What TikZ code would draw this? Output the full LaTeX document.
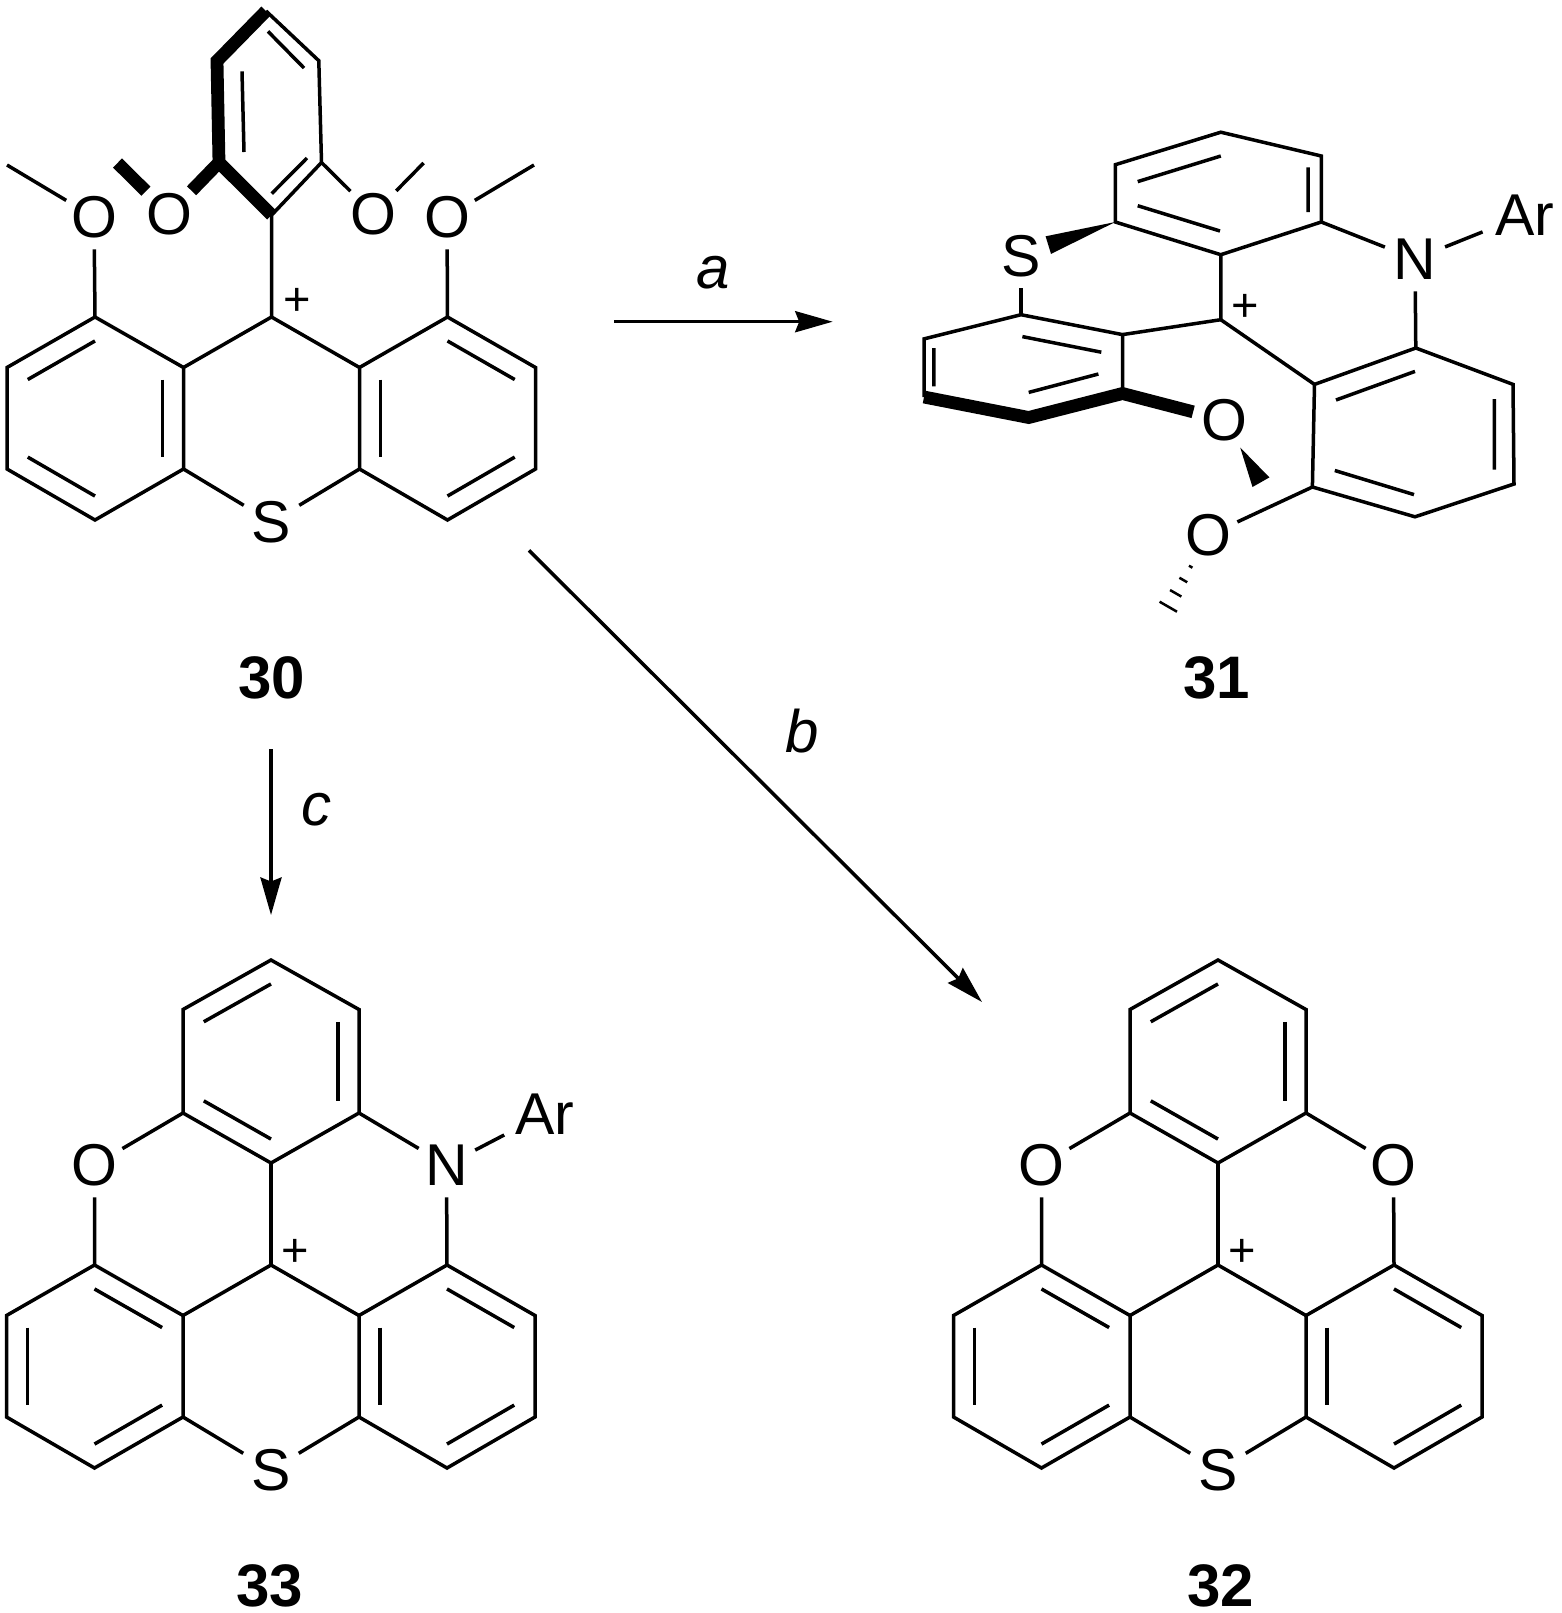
\documentclass[tikz,border=0pt]{standalone}
\usepackage{fontspec}
\setmainfont{Liberation Sans}
\usetikzlibrary{arrows.meta,calc}
\tikzset{
  bond/.style={line width=1.75pt,line join=miter},
  boldbond/.style={line width=6.4pt,line join=miter},
  atom/.style={circle,inner sep=0pt,minimum size=32pt,font=\fontsize{29.5}{30}\selectfont},
  aryl/.style={atom,minimum size=45pt},
  chg/.style={inner sep=0pt,font=\fontsize{23.5}{24}\selectfont},
  cmpd/.style={inner sep=0pt,font=\fontsize{30}{31}\selectfont\bfseries},
  cond/.style={inner sep=0pt,font=\fontsize{30}{31}\selectfont\itshape},
  rxn/.style={line width=1.75pt,-{Stealth[length=18.75pt,width=10.5pt,inset=2pt]}}
}
\begin{document}
\begin{tikzpicture}[x=0.5pt,y=-0.5pt]
  \useasboundingbox (0,0) rectangle (1562,1613);
  \def\dbl#1#2#3{\draw[bond] ($(#2)!0.236!(#1)$) -- ($(#3)!0.236!(#1)$);}
  \def\tribase#1(#2,#3){%
    \begin{scope}[shift={(#2,#3)}]
      \coordinate (#1p) at (0,0);
      \coordinate (#1a) at (-88,50.5);
      \coordinate (#1b) at (-88,152);
      \coordinate (#1c) at (88,50.5);
      \coordinate (#1d) at (88,152);
      \coordinate (#1e) at (-176.5,0);
      \coordinate (#1f) at (-264.5,50.5);
      \coordinate (#1g) at (-264.5,152);
      \coordinate (#1h) at (-176.5,203);
      \coordinate (#1i) at (176,0);
      \coordinate (#1j) at (264,50.5);
      \coordinate (#1k) at (264,152);
      \coordinate (#1l) at (176,203);
      \coordinate (#1lc) at (-176.5,101.5);
      \coordinate (#1rc) at (176,101.5);
      \node[atom] (#1s) at (0,205) {S};
    \end{scope}
    \draw[bond] (#1a) -- (#1e) -- (#1f) -- (#1g) -- (#1h) -- (#1b) -- cycle;
    \draw[bond] (#1c) -- (#1i) -- (#1j) -- (#1k) -- (#1l) -- (#1d) -- cycle;
    \draw[bond] (#1a) -- (#1p) -- (#1c);
    \draw[bond] (#1b) -- (#1s) -- (#1d);
    \foreach \u/\v in {i/j,c/d,k/l} {\dbl{#1rc}{#1\u}{#1\v}}
  }
  \def\capring#1(#2,#3)#4{%
    \begin{scope}[shift={(#2,#3)}]
      \coordinate (#1q) at (0,-102);
      \coordinate (#1t) at (-88,-152);
      \coordinate (#1u) at (-88,-255.5);
      \coordinate (#1v) at (0,-305);
      \coordinate (#1w) at (88,-255.5);
      \coordinate (#1x) at (88,-152);
      \coordinate (#1tc) at (0,-203.5);
      \node[atom] (#1ol) at (-176.5,-100) {O};
      \node[atom] (#1nr) at (175.5,-100) {#4};
    \end{scope}
    \draw[bond] (#1q) -- (#1t) -- (#1u) -- (#1v) -- (#1w) -- (#1x) -- cycle;
    \draw[bond] (#1q) -- (#1p);
    \draw[bond] (#1t) -- (#1ol) -- (#1e);
    \draw[bond] (#1x) -- (#1nr) -- (#1i);
    \foreach \u/\v in {u/v,w/x,t/q} {\dbl{#1tc}{#1\u}{#1\v}}
    \foreach \u/\v in {e/a,f/g,h/b} {\dbl{#1lc}{#1\u}{#1\v}}
  }

  % 30
  \tribase{m}(271.5,317)
  \foreach \u/\v in {e/f,a/b,g/h} {\dbl{mlc}{m\u}{m\v}}
  \node[chg] (mplus) at (297.7,301.8) {+};
  \coordinate (ar1) at (271.7,215);
  \coordinate (ar2) at (321.5,162.5);
  \coordinate (ar3) at (318.8,60.7);
  \coordinate (ar4) at (266,11);
  \coordinate (ar5) at (217,61);
  \coordinate (ar6) at (219,162.5);
  \draw[bond] (mp) -- (ar1) -- (ar2) -- (ar3) -- (ar4);
  \draw[boldbond] (ar4) -- (ar5) -- (ar6) -- (ar1);
  \draw[bond] (268,31.4) -- (304,68) (242,71.4) -- (244,152) (271.7,193.6) -- (307,158);
  \node[atom] (mo1) at (94,217) {O};
  \node[atom] (mo2) at (169,214) {O};
  \node[atom] (mo3) at (373.5,214) {O};
  \node[atom] (mo4) at (447,217) {O};
  \coordinate (me1) at (7,165);
  \coordinate (me2) at (117.5,163);
  \coordinate (me3) at (423.6,163);
  \coordinate (me4) at (534,165);
  \draw[bond] (me1) -- (mo1) -- (me);
  \draw[bond] (me4) -- (mo4) -- (mi);
  \draw[boldbond] (me2) -- (mo2) -- (ar6);
  \draw[bond] (ar2) -- (mo3) -- (me3);
  \node[cmpd] (lab30) at (272,678) {30};

  % 33
  \tribase{p}(271,1265)
  \capring{p}(271,1265){N}
  \node[aryl] (parl) at (544.5,1114) {Ar};
  \draw[bond] (pnr) -- (parl);
  \node[chg] (pplus) at (295,1253) {+};
  \node[cmpd] (lab33) at (270,1586) {33};

  % 32
  \tribase{r}(1218,1265)
  \capring{r}(1218,1265){O}
  \node[chg] (rplus) at (1242,1253) {+};
  \node[cmpd] (lab32) at (1220.5,1586) {32};

  % 31
  \coordinate (tp1) at (1115.3,164.7);
  \coordinate (tp2) at (1220.8,132.2);
  \coordinate (tp3) at (1321.3,156);
  \coordinate (tp4) at (1321.3,222);
  \coordinate (tp5) at (1220.8,254.7);
  \coordinate (tp6) at (1115.3,222);
  \coordinate (cen) at (1220.8,319.7);
  \coordinate (lf1) at (1021,314.7);
  \coordinate (lf2) at (924,338.9);
  \coordinate (lf3) at (924,397);
  \coordinate (lf4) at (1028.7,417.5);
  \coordinate (lf5) at (1122.5,393.5);
  \coordinate (lf6) at (1122.5,334.6);
  \coordinate (rt1) at (1415.8,348);
  \coordinate (rt2) at (1513,384.4);
  \coordinate (rt3) at (1514,484);
  \coordinate (rt4) at (1415,516.8);
  \coordinate (rt5) at (1312.4,487);
  \coordinate (rt6) at (1314.5,384.4);
  \node[atom] (ss) at (1021,256) {S};
  \node[atom] (nn) at (1415,259) {N};
  \node[aryl] (ar) at (1524.7,215) {Ar};
  \node[atom] (ou) at (1224.5,420) {O};
  \node[atom] (ol) at (1208,535.6) {O};
  \node[chg] (cplus) at (1245.3,308) {+};
  \draw[bond] (tp6) -- (tp1) -- (tp2) -- (tp3) -- (tp4) -- (tp5) -- cycle;
  \draw[bond] (tp5) -- (cen) -- (lf6);
  \draw[bond] (cen) -- (rt6);
  \draw[bond] (lf3) -- (lf2) -- (lf1) -- (lf6) -- (lf5);
  \draw[boldbond] (lf3) -- (lf4) -- (lf5) -- (ou);
  \draw[bond] (rt6) -- (rt1) -- (rt2) -- (rt3) -- (rt4) -- (rt5) -- cycle;
  \draw[bond] (tp4) -- (nn) -- (rt1);
  \draw[bond] (nn) -- (ar);
  \draw[bond] (ss) -- (lf1);
  \draw[bond] (rt5) -- (ol);
  \draw[bond] (1137.7,181.6) -- (1220.8,156) (1308,167.4) -- (1308,212) (1137.7,205.7) -- (1220,231);
  \draw[bond] (1022.4,336.6) -- (1101.3,352.2) (933.8,348) -- (933.8,386.3) (1028.7,392.4) -- (1098.4,374);
  \draw[bond] (1336,400) -- (1415,371.4) (1494.3,399) -- (1494.3,469.7) (1334.8,470.5) -- (1414,494.6);
  \fill (tp6) -- (1045.6,236.3) -- (1051,253.9) -- cycle;
  \fill (1240.2,447.5) -- (1252.5,487) -- (1269.4,477.4) -- cycle;
  \foreach \x/\y/\w in {1190.7/566.7/2,1183.3/580/4.5,1175.7/593.3/6.5,1168.3/606.7/10}
    \draw[line width=1.25pt] (\x-0.87*\w,\y-0.5*\w) -- (\x+0.87*\w,\y+0.5*\w);
  \node[cmpd] (lab31) at (1216.5,678) {31};

  % arrows
  \coordinate (aS) at (614,321.7);
  \coordinate (aE) at (832.7,321.7);
  \coordinate (bS) at (529,550.4);
  \coordinate (bE) at (982,1002);
  \coordinate (cS) at (271,749);
  \coordinate (cE) at (271,915);
  \draw[rxn] (aS) -- (aE);
  \draw[rxn] (bS) -- (bE);
  \draw[rxn] (cS) -- (cE);
  \node[cond] (la) at (713,273) {a};
  \node[cond] (lb) at (802,731) {b};
  \node[cond] (lc) at (316.7,810) {c};
\end{tikzpicture}
\end{document}
